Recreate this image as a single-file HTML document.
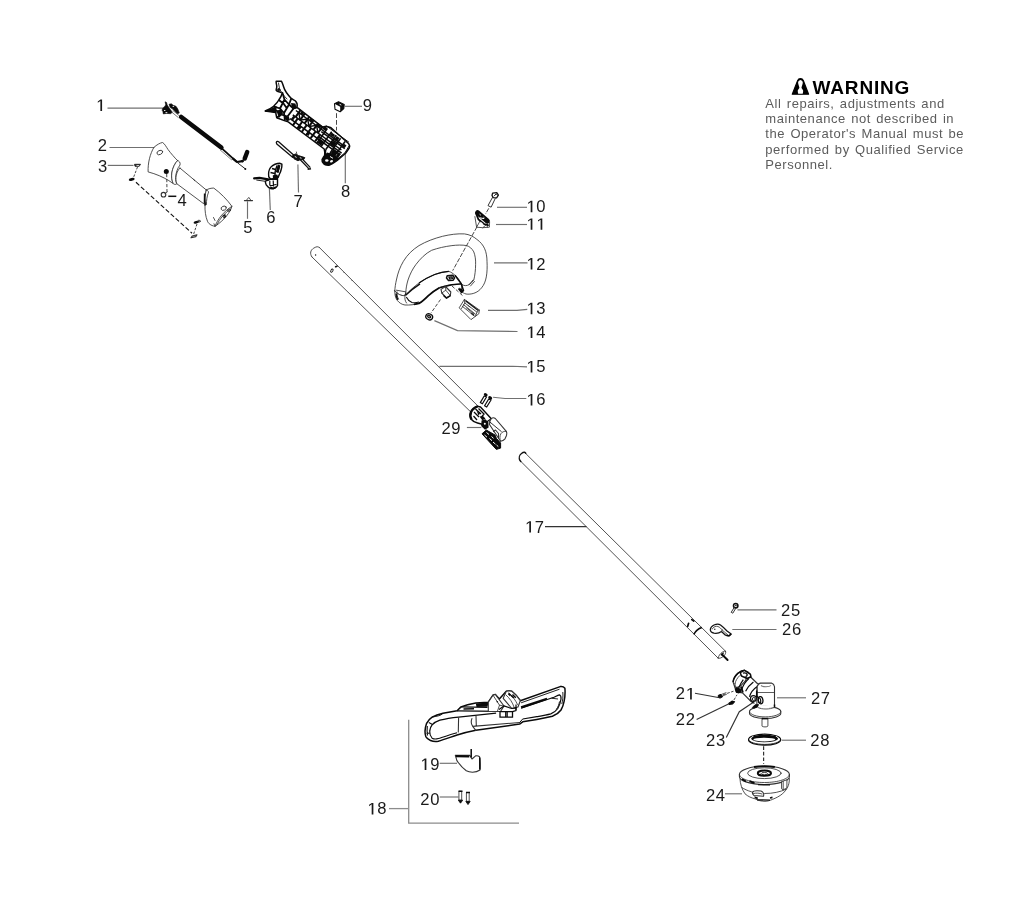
<!DOCTYPE html>
<html><head><meta charset="utf-8">
<style>
html,body{margin:0;padding:0;background:#fff;}
body{width:1024px;height:901px;overflow:hidden;position:relative;font-family:"Liberation Sans",sans-serif;}
svg{position:absolute;left:0;top:0;will-change:transform;}
.n{font-family:"Liberation Sans",sans-serif;font-size:16.6px;fill:#1a1a1a;}
.ld{stroke:#707070;stroke-width:1.15;fill:none;}
.p{stroke:#333;stroke-width:0.85;fill:none;stroke-linejoin:round;stroke-linecap:round;}
.pf{stroke:#333;stroke-width:0.85;fill:#fff;stroke-linejoin:round;stroke-linecap:round;}
.k{stroke:#111;fill:#111;stroke-width:0.8;stroke-linejoin:round;}
.d{stroke:#333;stroke-width:0.9;fill:none;stroke-dasharray:3.2 1.8;}
.w{font-family:"Liberation Sans",sans-serif;font-size:13px;fill:#5c5c5c;letter-spacing:0.55px;word-spacing:1.2px;}
.wt{font-family:"Liberation Sans",sans-serif;font-size:19px;font-weight:bold;fill:#000;letter-spacing:0.82px;}
</style></head><body>
<svg width="1024" height="901" viewBox="0 0 1024 901">
<defs><path id="one" d="M540 0V1237L222 1010V1180L555 1409H750V0Z" fill="#1a1a1a"/></defs>
<!-- WARNING -->
<g id="warning">
<path d="M792.300 94.200L797.600 80.600C798.700 77.900 802.200 77.900 803.300 80.600L808.600 94.200Z" fill="#000" stroke="#000" stroke-width="1.200" stroke-linejoin="round"/>
<path d="M800.450 79.900C802 80.300 802.900 81.500 802.800 82.800C802.600 84.600 801.800 86.200 801.500 87.600C801.500 88.600 802.800 89.300 803.200 90.700C803.200 91.900 802.800 92.900 802.700 93.700H798.200C798.100 92.900 797.700 91.900 797.700 90.700C798.100 89.300 799.400 88.600 799.400 87.600C799.100 86.200 798.300 84.600 798.100 82.800C798 81.500 798.900 80.300 800.450 79.900Z" fill="#fff"/>
<text class="wt" x="812.600" y="94">WARNING</text>
<text class="w" x="765.3" y="107.6">All repairs, adjustments and</text>
<text class="w" x="765.3" y="123">maintenance not described in</text>
<text class="w" x="765.3" y="138.3">the Operator's Manual must be</text>
<text class="w" x="765.3" y="153.6">performed by Qualified Service</text>
<text class="w" x="765.3" y="169.2">Personnel.</text>
</g>
<!-- LABELS -->
<g id="labels">
<use href="#one" transform="translate(96.00 111.00) scale(0.008105 -0.008105)"/>
<text class="n" x="97.80" y="150.80">2</text>
<text class="n" x="97.90" y="172.00">3</text>
<text class="n" x="177.40" y="205.60">4</text>
<text class="n" x="243.20" y="233.20">5</text>
<text class="n" x="266.20" y="223.20">6</text>
<text class="n" x="293.50" y="207.20">7</text>
<text class="n" x="341.00" y="197.40">8</text>
<text class="n" x="362.80" y="111.20">9</text>
<use href="#one" transform="translate(526.30 212.20) scale(0.008105 -0.008105)"/>
<text class="n" x="536.23" y="212.20">0</text>
<use href="#one" transform="translate(526.30 229.80) scale(0.008105 -0.008105)"/>
<use href="#one" transform="translate(536.23 229.80) scale(0.008105 -0.008105)"/>
<use href="#one" transform="translate(526.30 269.50) scale(0.008105 -0.008105)"/>
<text class="n" x="536.23" y="269.50">2</text>
<use href="#one" transform="translate(526.30 314.20) scale(0.008105 -0.008105)"/>
<text class="n" x="536.23" y="314.20">3</text>
<use href="#one" transform="translate(526.30 338.00) scale(0.008105 -0.008105)"/>
<text class="n" x="536.23" y="338.00">4</text>
<use href="#one" transform="translate(526.30 372.40) scale(0.008105 -0.008105)"/>
<text class="n" x="536.23" y="372.40">5</text>
<use href="#one" transform="translate(526.30 405.40) scale(0.008105 -0.008105)"/>
<text class="n" x="536.23" y="405.40">6</text>
<text class="n" x="441.40" y="433.80">2</text>
<text class="n" x="451.33" y="433.80">9</text>
<use href="#one" transform="translate(524.90 532.60) scale(0.008105 -0.008105)"/>
<text class="n" x="534.83" y="532.60">7</text>
<text class="n" x="781.00" y="616.10">2</text>
<text class="n" x="790.93" y="616.10">5</text>
<text class="n" x="782.00" y="634.60">2</text>
<text class="n" x="791.93" y="634.60">6</text>
<text class="n" x="675.80" y="699.40">2</text>
<use href="#one" transform="translate(685.73 699.40) scale(0.008105 -0.008105)"/>
<text class="n" x="675.70" y="725.00">2</text>
<text class="n" x="685.63" y="725.00">2</text>
<text class="n" x="706.10" y="745.60">2</text>
<text class="n" x="716.03" y="745.60">3</text>
<text class="n" x="810.90" y="704.40">2</text>
<text class="n" x="820.83" y="704.40">7</text>
<text class="n" x="810.20" y="745.60">2</text>
<text class="n" x="820.13" y="745.60">8</text>
<text class="n" x="705.90" y="801.00">2</text>
<text class="n" x="715.83" y="801.00">4</text>
<use href="#one" transform="translate(420.30 770.00) scale(0.008105 -0.008105)"/>
<text class="n" x="430.23" y="770.00">9</text>
<text class="n" x="420.30" y="804.60">2</text>
<text class="n" x="430.23" y="804.60">0</text>
<use href="#one" transform="translate(367.30 814.40) scale(0.008105 -0.008105)"/>
<text class="n" x="377.23" y="814.40">8</text>
</g>
<!-- LEADERS -->
<g id="leaders" class="ld">
<path d="M107.5 108.1H163"/>
<path d="M109.5 147.5H153.5"/>
<path d="M107.8 165.4H133.5"/>
<path d="M247.5 201.3V218.8"/>
<path d="M269.4 188.8L270.3 210"/>
<path d="M297.9 164.4L298.5 192.5"/>
<path d="M345.3 153.8V183.2"/>
<path d="M345 106.3H362"/>
<path d="M497 207.3H527"/>
<path d="M496 224.5H527"/>
<path d="M494 262.8H527.5"/>
<path d="M488 310.4H517L527.3 309.4"/>
<path d="M434.4 320.6L457.5 330.6L517.5 331.5"/>
<path d="M439.4 366.3H512.5L527 366.9"/>
<path d="M493.1 397.3L505 398.5H526.3"/>
<path d="M466.9 427.5H481.3"/>
<path d="M737.500 609.900H776.500"/>
<path d="M732.300 629.500H776.500"/>
<path d="M777 697.8H806"/>
<path d="M781.7 740.2H806"/>
<path d="M725 793.8H742"/>
<path d="M439.7 763.3H457"/>
<path d="M439.7 797H458.4"/>
</g>
<g id="leaders2" class="ld" style="stroke:#333">
<path d="M695 693.2L718.200 697.500"/>
<path d="M696.600 719.600L730 703.200"/>
<path d="M726.300 737.500L739.300 711.700L753.400 702.300"/>
<path d="M545 526.600H586.500"/>
</g>
<g id="bracket18" style="stroke:#8c8c8c;stroke-width:1.3;fill:none">
<path d="M408.700 719.800V823.100H519"/>
<path d="M389 808.600H408"/>
</g>
<!-- SHAFTS -->
<g id="shafts" class="p">
<path d="M319.400 247.500L489.500 417.600"/>
<path d="M311.9 256.9L471.3 412.5"/>
<path d="M311.9 256.9C309.500 253.500 310.500 250 313.800 248.100S317.500 246.500 319.400 247.500"/>
<path d="M524.700 452.500L725.600 651.300"/>
<path d="M520 460.600L718.100 658.100"/>
<path d="M520.800 461.400L520 460.600C518.500 458 519.500 455 521.500 453.500S524 452 525 452.500L525.800 453.300" style="stroke:#111;stroke-width:1.400"/>
</g>

<!-- PART 1 cable -->
<g id="p1">
<path d="M165.100 101.800L166.600 102.600L167.200 105L169.600 108.600L172.400 112.300L170.500 113.700L166.500 113.400L163.300 113.900L162.900 111.600L162.200 110.400L162.400 108.900L163.600 107.300L165 106.300L165.700 104.500Z" fill="#0a0a0a" stroke="#0a0a0a" stroke-width="0.600" stroke-linejoin="round"/>
<path d="M169 104.300L171.300 103.800L173.200 105.300L176 106.300L177.800 109L179.300 113L177.300 113.800L172.400 108.800L170.200 107.600Z" fill="#0a0a0a" stroke="#0a0a0a" stroke-width="0.600" stroke-linejoin="round"/>
<path d="M164 110.500h1.400M165.500 112.600h1.800M172.600 106.400h1.500" stroke="#fff" stroke-width="0.900"/>
<path d="M172.800 110.400L179.800 116.200M171.600 112L178.400 117.600" stroke="#555" stroke-width="0.800" fill="none"/>
<path d="M181.200 117L221.300 147.500" stroke="#0a0a0a" stroke-width="4.700" stroke-linecap="round" fill="none"/>
<path d="M221.500 148.200L236.500 161.600" stroke="#0a0a0a" stroke-width="1.800" fill="none"/>
<path d="M220 149.800L232 160.200" stroke="#777" stroke-width="0.900" fill="none"/>
<path d="M233 158.600L237 162L242.500 161.200" stroke="#0a0a0a" stroke-width="2.200" fill="none" stroke-linecap="round" stroke-linejoin="round"/>
<circle cx="242.500" cy="161.100" r="1.400" fill="#0a0a0a"/>
<path d="M244.700 158.600L247.200 152" stroke="#0a0a0a" stroke-width="4.400" stroke-linecap="round" fill="none"/>
<path d="M237.500 162.800L245 168.600" stroke="#222" stroke-width="1" fill="none"/>
<circle cx="245.300" cy="168.900" r="1" fill="#0a0a0a"/>
</g>
<!-- PART 2 handle half -->
<g id="p2">
<path class="pf" d="M153.800 147.500C157 144.500 160 143 162.500 142.500C164.500 143.500 166 146.500 168 149.500C171 153.500 174.500 157.500 177.500 160.600C175 163 172.500 168 171.800 173C171.300 177 171.800 180.500 173.200 183.500L168.800 180.600C163 177 156 174 148.100 171.900C147.800 163 150 154 153.800 147.500Z"/>
<path class="pf" d="M177.500 160.600C179.500 161 180.500 162.500 180 165C177.500 168 175.800 173 175.600 177.500C175.500 180.500 176 182.500 176.900 183.800C175.500 184.800 174 184.500 173.200 183.500C171.800 180.500 171.300 177 171.800 173C172.500 168 175 163 177.500 160.600Z"/>
<path class="pf" d="M180 168.100L206.300 190L203.800 203.800L176.900 183.800C175.800 181.500 175.700 178 176.300 175C177 172 178.300 169.500 180 168.100Z"/>
<path class="p" d="M193.500 179.200l1.200 1.600"/>
<path class="pf" d="M206.300 190C208.500 188.600 211.500 188 213.800 188.100C220.500 193 227 199.500 231.900 206.300C230.500 212 224 220.500 215 226.300C210.500 225.500 208.500 223.500 207.500 221.300C205.500 216.500 204.800 210.500 205 205C204.600 200 204.800 195 206.300 190Z"/>
<path class="p" d="M206.300 190C207.500 190.300 208.300 191 208.600 192C207 196 206.300 200.500 206.500 204.500" />
<path d="M204.700 193.500C204.400 197.500 204.600 201.500 205.300 205.500" stroke="#111" stroke-width="1.700" fill="none"/>
<path class="p" d="M215 226.300C217.500 219.500 223 212 231.900 206.300M216.800 225C219.500 219 224.500 213 230.800 208.800M214 223.800L215 226.300"/>
<ellipse class="p" cx="223.700" cy="208.200" rx="2.700" ry="2" transform="rotate(-25 223.700 208.200)"/>
<ellipse class="p" cx="229" cy="210.200" rx="1.500" ry="1.200"/>
<path d="M222.500 216.500l3 -1.800M223.500 218l2.500 -2" stroke="#111" stroke-width="1.400" fill="none"/>
<path class="p" d="M213.500 217.500l1.500 3"/>
<ellipse class="p" cx="159.800" cy="152.500" rx="3" ry="2" transform="rotate(-25 159.800 152.500)"/>
<circle cx="166.300" cy="171.600" r="2.500" fill="#0a0a0a"/>
<path class="d" d="M166.700 174L167 192"/>
<circle class="p" cx="163.500" cy="194.700" r="2.300" style="stroke-width:1.100"/>
<path d="M165 193.500L167.200 192" class="p"/>
<path d="M168.300 196.300H176.300" stroke="#111" stroke-width="1.500" fill="none"/>
</g>
<!-- PART 3 screws -->
<g id="p3">
<path class="k" d="M134.500 164.300h6l-1.300 2h-4.200z" style="fill:#333"/>
<path d="M136.200 164.900h3.200l-0.600 0.900h-2z" fill="#fff"/>
<path class="d" d="M137.500 167L133.500 177.500" style="stroke-dasharray:2.500 1.500"/>
<ellipse cx="131.700" cy="179.400" rx="3" ry="1.500" transform="rotate(-12 131.700 179.400)" fill="#0a0a0a"/>
<path class="d" d="M136 182.300L192 233.200" style="stroke-dasharray:4.500 2.200;stroke:#111;stroke-width:1.150"/>
<ellipse cx="196.300" cy="222.200" rx="2.800" ry="1.300" transform="rotate(-15 196.300 222.200)" fill="#0a0a0a"/>
<ellipse class="p" cx="199" cy="221.200" rx="1.300" ry="1"/>
<path class="d" d="M197 224L193.500 234.500" style="stroke-dasharray:2.500 1.500"/>
<path class="p" d="M191 237.800l1.200 -1.800 4.800 -1.200 -1.200 1.800z" style="stroke-width:1.100"/>
</g>
<!-- PART 5 -->
<g id="p5">
<path d="M244.400 200.600H252.500" class="p" style="stroke-width:1.100"/>
<path d="M246.300 200.400L248.800 197.400L251 200.400" class="p"/>
</g>
<g id="p8">
<path d="M276.2 81.2L281.4 81.2C282.5 83 283 85 283.5 86.500C284.500 90 286.500 93.500 291.300 98.400C293 99.800 294.500 100.200 295.500 101C297 102.500 297.500 105 297 107.300L322.600 127.100C324 126.300 325.500 126.300 326.800 126.600S329.500 127 331 127.700L348.700 143.800C349.600 145 349.800 146.500 349.200 148L345.600 153.200L337.200 160.500C334.500 162.500 331.500 164.500 328.900 165.200C326.500 165.300 324.500 164.800 323.700 163.700C322.300 162.500 321.800 161 322.100 159.500C322.800 158 324 156.500 324.700 155.300C325 153 324.800 151 324.200 149L288.200 121.900L285 120.900L276.700 117.700L275.700 112.500L265.200 111C268.500 109.800 271.500 108 273.600 106.300C276 104 277.800 102 278.800 100C280.500 97.500 281.800 95 282.400 92.700L278.800 91.700C277 91.200 276 90.500 276.200 89.600C276.800 88 277 86.800 276.700 85.400C276.300 84 276 82.500 276.200 81.200Z" fill="#fff" stroke="#0a0a0a" stroke-width="1.5" stroke-linejoin="round"/>
<path class="p" d="M278.500 83L279.500 88.500C281 92 283.500 95.500 287 99" style="stroke-width:1"/>
<circle cx="278.800" cy="89.500" r="1.600" fill="#111"/>
<path d="M282.400 92.700L284.500 99.500L289 104.500M278.800 100L283.500 103.500L287 108.500M273.600 106.300L280 108.500L284 113M265.200 111L276 110.500L279.500 112M284.500 99.500L280 108.500M289 104.500L284 113L285 120.900M276.700 117.700L281 114.500L287.500 116.500M291.300 98.400L289 104.500L293.500 108.500L297 107.300M287.500 116.500L293.500 108.500" fill="none" stroke="#0a0a0a" stroke-width="1.800" stroke-linejoin="round"/>
<path d="M265.500 111L276.500 106L276.500 113Z" fill="#0a0a0a"/>
<path d="M276.500 111L281 109L283 113.500L279 118Z" fill="#0a0a0a"/>
<path d="M291 103L295.500 103.500L296.500 108L292.500 110Z" fill="#0a0a0a"/>
<path d="M284 117.500L288.500 116L290 120L287 121.500Z" fill="#0a0a0a"/>
<path d="M295.9 110.5 L344.2 146.1M292.8 114.8 L341.4 150.0M290.1 118.6 L338.7 153.8" fill="none" stroke="#0a0a0a" stroke-width="1.500"/>
<path d="M300.5 110.2 L295.7 116.8M297.8 118.4 L292.9 125.3M304.9 113.4 L300.1 120.1M302.3 121.6 L297.3 128.5M309.4 116.6 L304.6 123.3M306.8 124.9 L301.8 131.8M313.8 119.9 L309.0 126.5M311.2 128.1 L306.2 135.0M318.3 123.1 L313.5 129.7M315.7 131.3 L310.7 138.2M322.7 126.3 L317.9 133.0M320.1 134.6 L315.1 141.4" fill="none" stroke="#0a0a0a" stroke-width="2"/>
<path d="M298.8 112.5 L300.1 120.1M307.7 119.0 L309.0 126.5M316.6 125.4 L317.9 133.0M300.1 120.1 L307.7 119.0M309.0 126.5 L316.6 125.4" fill="none" stroke="#0a0a0a" stroke-width="1.400"/>
<path d="M301.6 111.2 L304.0 113.0 L302.4 115.3 L299.9 113.5Z" fill="#0a0a0a"/>
<path d="M310.5 117.7 L313.3 119.7 L311.7 122.0 L308.8 120.0Z" fill="#0a0a0a"/>
<path d="M318.7 123.4 L321.9 125.7 L320.2 128.2 L316.9 125.8Z" fill="#0a0a0a"/>
<path d="M299.2 125.6 L301.6 127.3 L299.9 129.8 L297.4 128.0Z" fill="#0a0a0a"/>
<path d="M307.7 131.7 L310.1 133.5 L308.4 135.9 L305.9 134.2Z" fill="#0a0a0a"/>
<path d="M293.3 115.8 L295.4 117.2 L293.0 120.5 L291.0 119.0Z" fill="#0a0a0a"/>
<path d="M327.3 128.6 L316.7 143.2M331.7 131.8 L321.2 146.4M336.2 135.1 L325.6 149.7M340.6 138.3 L330.1 152.9M345.1 141.5 L334.5 156.1M321.3 131.7 L344.8 148.7M318.1 136.2 L341.6 153.2" fill="none" stroke="#0a0a0a" stroke-width="1.600"/>
<path d="M324.3 125.9 L327.6 128.2 L325.5 131.0 L322.3 128.7Z" fill="#0a0a0a"/>
<path d="M331.8 132.5 L335.1 134.9 L333.3 137.3 L330.1 135.0Z" fill="#0a0a0a"/>
<path d="M332.8 140.6 L336.4 143.3 L333.8 146.9 L330.1 144.3Z" fill="#0a0a0a"/>
<path d="M320.3 139.0 L324.0 141.7 L321.0 145.7 L317.4 143.1Z" fill="#0a0a0a"/>
<path d="M333.7 148.7 L337.7 151.7 L334.5 156.1 L330.5 153.2Z" fill="#0a0a0a"/>
<path d="M344.0 143.8 L346.5 145.6 L344.7 148.0 L342.3 146.3Z" fill="#0a0a0a"/>
<path d="M325.6 149.7 L325.0 157.3 L325.6 163.3M330.1 152.9 L330.3 158.6 L334.6 161.1M334.5 156.1 L331.9 162.3" fill="none" stroke="#0a0a0a" stroke-width="1.600"/>
<path d="M324.3 157.4 L328.2 158.9 L327.4 163.3 L323.4 162.9Z" fill="#0a0a0a"/>
<path d="M325.8 125.5 L348.9 142.2M348.9 146.1 L345.1 152.6 L336.9 159.7" fill="none" stroke="#0a0a0a" stroke-width="1"/>
<path d="M324.700 155.300C324 156.500 322.800 158 322.100 159.500C321.800 161 322.300 162.500 323.700 163.700C324.500 164.800 326.500 165.300 328.900 165.200C331.500 164.500 334.500 162.500 337.200 160.500L339.500 158.500L333 154L327 152.500Z" fill="#0a0a0a"/>
<ellipse cx="326.800" cy="160.500" rx="1.700" ry="1.300" fill="#fff"/>
<ellipse cx="331.500" cy="161.300" rx="1.600" ry="1.100" fill="#fff" transform="rotate(-30 331.500 161.300)"/>
<path d="M330 156.500l3 1.800" stroke="#fff" stroke-width="1"/>
<path d="M336.7 136.1 L339.5 138.1 L336.9 141.8 L334.0 139.7Z" fill="#0a0a0a"/>
<path d="M338.6 152.2 L341.0 154.0 L338.1 158.1 L335.6 156.3Z" fill="#0a0a0a"/>
</g>

<!-- PART 9 -->
<g id="p9">
<path d="M334.500 103.800L338.500 101.800L344.200 104.500L343.800 108.500L340.200 111.800L335 109.200Z" fill="#fff" stroke="#0a0a0a" stroke-width="1.100" stroke-linejoin="round"/>
<path d="M334.500 103.800L338.500 101.800L344.200 104.500L343.800 108.500L340.200 111.800L340.200 106.800Z" fill="#0a0a0a"/>
<path d="M339.500 104.200l1.800 0.900" stroke="#fff" stroke-width="0.9"/>
<path class="d" d="M336.500 113.200V130.500" style="stroke-dasharray:4.800 2"/>
</g>
<!-- PART 7 -->
<g id="p7">
<path d="M276.300 142.600C276.600 141.400 277.700 141.100 278.600 141.800L294.200 155.400L292.600 157.200L276.800 143.900Z" fill="#fff" stroke="#111" stroke-width="1.300" stroke-linejoin="round"/>
<path d="M292.600 155.400L295.500 153.900L298.500 155.600L304.800 157.600L303.800 159.400L300.500 159.500L298 160.800L294 158.800Z" fill="#111" stroke="#0a0a0a" stroke-width="0.900"/>
<path d="M294.800 156.400l1.800 1M299.800 157.600l2.200 1" stroke="#fff" stroke-width="0.900"/>
<path d="M296.400 152L296.900 154.500" class="p"/>
<path d="M299.800 159.300L309 168.900M301.600 158.300L310.400 167.600" fill="none" stroke="#111" stroke-width="1.250"/>
<path d="M307.600 169.300L311 168.700" stroke="#111" stroke-width="1.500"/>
</g>
<!-- PART 6 -->
<g id="p6">
<path d="M280 163.300C278 163.300 276.500 163.700 275 164.250C273.200 165 271.800 166 270.600 167.400C269.600 168.800 269 170.200 268.750 171.750C268.500 173.500 268.500 175.200 268.750 176.750L270.600 179.250L277.500 178C278.500 176.800 279 175.500 279.400 174.250C280.300 172.600 280.900 171 281.250 169.250C281.800 167.500 282 165.800 281.900 164.250Z" fill="#fff" stroke="#0a0a0a" stroke-width="1.400" stroke-linejoin="round"/>
<path d="M277 165.500C275.500 169 274.800 172 275 175.500M272 168.500L275.500 169.500M270.500 172.500L274.800 173.500M279.300 166L278 172.500" fill="none" stroke="#0a0a0a" stroke-width="1.400"/>
<path d="M277.800 164.500L280.500 165.500L278.200 173L275.800 172Z" fill="#0a0a0a"/>
<path d="M272.800 175.200L277.200 174.500L278.600 177.500L277 180.500L273 180Z" fill="#0a0a0a"/>
<path d="M265.300 181.100C265.400 182.500 265.700 183.800 266.250 184.900C267.300 186.500 268.900 187.800 270.600 188.600C272.200 188.900 273.700 188.600 275 188C276.200 187.400 277 186.500 277.500 185.500V179.250L270.600 179.250Z" fill="#fff" stroke="#0a0a0a" stroke-width="1.400" stroke-linejoin="round"/>
<path d="M269.800 181V185.500M273.200 180.500L273.500 186.500M269.800 185.500L276.500 184.500" fill="none" stroke="#0a0a0a" stroke-width="1.200"/>
<path d="M270.300 186.200l2.800 1.300 2.600 -1.200 0.200 1.800 -2.800 1.400 -3 -1.500z" fill="#0a0a0a"/>
<path d="M254.200 178.300L259.500 177.800L268.200 179.400" stroke="#0a0a0a" stroke-width="2.300" fill="none" stroke-linecap="round"/>
<path d="M256.300 180L264.500 181.200L265.500 182" stroke="#0a0a0a" stroke-width="0.900" fill="none"/>
</g>

<!-- PART 12 loop handle -->
<g id="p12">
<path class="pf" d="M394.800 290.900C395 287 395.600 283.500 396.400 280C397.800 273 400 267 403.400 261.300C407.500 254.500 412.500 249.800 419 245.600C426 241.500 434 238.500 442.500 236.300C450 234.500 457.500 233.500 464.400 233.900C469.500 234.500 473.500 236.500 476.900 239.400C480.500 242 483 245 484.700 248.800C486.300 252.500 487 257 487 261.300C487.300 266.500 487.200 272 486.300 276.900C485.500 281.200 484 285 481.600 287.800C479.500 290.500 477 292.300 473.800 293.300C471.300 294.100 468.500 294.400 466 294C464 293.400 462.300 292.400 461.300 290.900L462 284.700C464.500 286 467 285.800 469 284.700C471 283.500 472.500 282 473.800 280C475 275 475.600 269.800 475.600 264.400C475.800 260 475.200 255.500 473.800 251.900C472 248.500 469.500 246.500 466.700 245.600C462 244.800 457 245 451.900 245.600C445 246.500 438 248 431.600 250.300C425.500 253.500 420.500 258.500 416 264.400C412.500 269 409.800 274.500 408 280C406.800 284 406 288 405.800 292.500L405 295.600C401 296 397.500 294 394.800 290.900Z"/>
<path class="pf" d="M394.800 290.900C394.600 294.500 395.500 298 397.200 300.300C399.300 303 402 304.600 405 305C409.800 305.200 414.500 304.700 419 303.400C422.500 301.500 425.500 298.500 428.400 295.600C431.800 292.600 435.500 290 439.400 287.800C443.500 286 447.800 285 451.900 284.700L461.300 283.900L462 284.700C459.500 280 457.500 277.500 455 275.300C453 273.500 451 272 448.800 271.400C444 271.800 439.500 272.800 434.700 274.500C429 276.800 424 279.500 419 283C414 286.500 409.500 291 405 295.600L405.800 292.500L405 295.600C401 296 397.500 294 394.800 290.900Z"/>
<path class="p" d="M397 291.800C396.800 294.500 397.300 297 398.500 299M405 295.600C404.500 298.500 405 301 406.500 303M396.400 290.200L405.500 291.800" />
<path d="M396.200 293.500C396.200 296 396.800 298 397.800 299.800" stroke="#111" stroke-width="1.700" fill="none"/>
<path d="M406.300 297C407.500 299.500 409.500 301.500 412 302.500C414 303 416.500 302.800 419 302" stroke="#111" stroke-width="1.100" fill="none"/>
<path d="M405.600 295.300C410 291 415 287 420 283.800" stroke="#111" stroke-width="1.500" fill="none"/>
<path class="pf" d="M447.200 275.700L452.800 275.200L454.500 278L453.200 280.200L448.500 280.500L446.500 278Z" style="stroke-width:1.500;stroke:#111"/>
<path d="M449 277.200l3 -0.200 0.500 1.500 -2.800 0.500z" fill="none" stroke="#111" stroke-width="1.200"/>
<path d="M455 275.300L461.300 283.900L463.500 290.500L461.500 292.500L458.500 288.500" stroke="#0a0a0a" stroke-width="1.500" fill="none" stroke-linejoin="round"/>
<path d="M459 287.500L464 290.500L461.500 293.500Z" fill="#0a0a0a"/>
<path d="M439.400 287.800L451.900 284.700L461.300 283.900" stroke="#0a0a0a" stroke-width="1.400" fill="none"/>
<path d="M414 304.300C416 304 417.800 303.800 419 303.400C422.500 301.500 425.500 298.500 428.400 295.600C431.800 292.600 435.500 290 439.400 287.800" stroke="#0a0a0a" stroke-width="1.800" fill="none"/>
<path d="M419 283C424 279.500 429 276.800 434.700 274.500C439.500 272.800 444 271.800 448.800 271.400" stroke="#0a0a0a" stroke-width="1.300" fill="none"/>
<path class="pf" d="M441 289.400L445.500 286.500L450.800 292L450.300 295.600L446.500 298L441.800 293Z" style="stroke-width:1.100"/>
<path class="p" d="M445.500 286.500L445.800 290.200L450.300 295.600M445.800 290.200L441.800 293" />
<path d="M443.500 295.500l3 2.500 4 -2.300" stroke="#111" stroke-width="1.500" fill="none"/>
<path class="p" d="M469 284.700L473 280M470.500 286L474.500 281.500"/>
<path class="d" d="M452 286L463 296M440.500 299.500L431 313" style="stroke-dasharray:3.500 1.800"/>
<path class="d" d="M488.800 208.300L485.500 214M477 226.800L452.700 270.600" style="stroke-dasharray:4.500 1.500"/>
</g>
<!-- PART 10 screw -->
<g id="p10">
<path class="pf" d="M492.600 193.200L496.800 192.600L498.400 195.200L496.600 197.800L493.200 197.600L492 195.400Z" style="stroke-width:1.300;stroke:#111"/>
<path d="M494.200 195.800L496.200 194L497.600 195.400" fill="none" stroke="#111" stroke-width="1"/>
<path class="p" d="M492.400 197.600L488 205.600L491.100 207.200L495.200 198.600" style="stroke:#111"/>
</g>
<!-- PART 11 -->
<g id="p11">
<path class="pf" d="M474.900 216.600L476.600 227.200L482.800 227.700L489.400 227.200L489.600 222"/>
<path class="p" d="M476.600 227.200L480 221M482.800 227.700L486.500 224.500M487.300 224V227.300"/>
<path d="M477.600 212.600L487.300 221" stroke="#0a0a0a" stroke-width="5" stroke-linecap="round" fill="none"/>
<path d="M476 213.500L478.500 219.500L484 224L488 225.200" stroke="#0a0a0a" stroke-width="1.800" stroke-linecap="round" fill="none"/>
<path d="M479.600 214.200l1.200 1M479.600 217.800l4.400 0.800M483.500 217.200l1 0.800" stroke="#fff" stroke-width="1"/>
<path d="M480.500 221.500l3 2.800 -2.500 0.700z" fill="#fff"/>
</g>
<!-- PART 13 -->
<g id="p13">
<path class="pf" d="M459.400 307.500L464.400 299.400L479.400 310L478.800 313.800L471.300 319.400Z"/>
<path class="p" d="M464.400 299.400L464.800 303L477 312.200L479.400 310M464.800 303L461.500 308.500M477 312.200L475.500 316.200M468 305.500L470 307M466.500 308L473.500 313.500"/>
<path d="M471 313l3 2.300" stroke="#111" stroke-width="1.500"/>
<path class="p" d="M463.300 304.500L475.500 314.200M462.300 306.300L474.500 316" />
<path d="M465.500 300.800L478.300 310.400" stroke="#111" stroke-width="1.300" fill="none"/>
</g>
<!-- PART 14 nut -->
<g id="p14">
<ellipse cx="429.200" cy="316.800" rx="3.500" ry="2.900" transform="rotate(30 429.200 316.800)" fill="#fff" stroke="#0a0a0a" stroke-width="1.300"/>
<ellipse cx="429.200" cy="316.600" rx="2.300" ry="1.700" transform="rotate(30 429.200 316.600)" fill="#111"/>
<path d="M428.300 316.300l1.600 0.700" stroke="#fff" stroke-width="0.700"/>
</g>
<!-- PART 16 screws -->
<g id="p16">
<path class="pf" d="M484.200 396L480.300 402.600L482.400 403.800L486.500 397Z" style="stroke:#0a0a0a;stroke-width:1.200"/>
<path class="pf" d="M488.700 399L484.600 405.800L486.700 407L491 400Z" style="stroke:#0a0a0a;stroke-width:1.200"/>
<ellipse cx="485.700" cy="394.800" rx="2" ry="1.500" transform="rotate(30 485.700 394.800)" fill="#0a0a0a"/>
<ellipse cx="490.200" cy="397.900" rx="2.100" ry="1.600" transform="rotate(30 490.200 397.900)" fill="#0a0a0a"/>
</g>
<!-- PART 29 coupler -->
<g id="p29">
<path d="M477.500 406.300C474.500 407.500 472 409.500 471 412C470 414.500 470.300 417.500 471.500 419.500C473 421.500 475 422.500 477.500 423L483 424.500L491.300 418.700L480.500 407Z" fill="#fff" stroke="#0a0a0a" stroke-width="1.400" stroke-linejoin="round"/>
<path d="M477.500 406.300C474.500 407.500 472 409.500 471 412C470 414.500 470.300 417.500 471.500 419.500" stroke="#0a0a0a" stroke-width="2.400" fill="none"/>
<path d="M475.500 409L481 414M474 412L479 417M473.500 416L477 420M478.500 408.500L484 414L482 416.500L485 419" stroke="#0a0a0a" stroke-width="1.300" fill="none"/>
<path d="M476.500 410.500l3.500 3 -1.500 2z" fill="#0a0a0a"/>
<path class="pf" d="M491.300 418.700C492.500 417.600 494 417.500 495.300 418.500L506.300 431.300C507 432.500 507 434 506.500 435.500L505 438.800C504 440 502.500 441 500.500 441.300L489.500 424.500C489.300 422.500 490 420.200 491.300 418.700Z" style="stroke-width:1.100"/>
<path class="p" d="M506.300 431.300C504 431 502 432 500.800 433.800C499.800 435.800 499.600 438.500 500.500 441.300"/>
<path d="M481.500 420.500L485.500 419.200L488.400 422.500L488.600 427.500L485 429.800L481.200 426Z" fill="#0a0a0a"/>
<path d="M479.500 416.500l3.500 -0.500 2 2.500 -2.500 2z" fill="#0a0a0a"/>
<path class="p" d="M489.600 421.800L501.300 431.500" style="stroke:#111"/>
<circle cx="484.800" cy="423.800" r="1" fill="#fff"/>
<path d="M482 433.800L486.300 430L495 435L496.500 438.500L500.600 443L500.600 448.100L496.300 449.400Z" fill="#0a0a0a" stroke="#0a0a0a" stroke-width="1" stroke-linejoin="round"/>
<path d="M486.500 432.500l2.500 2M484.500 435l2.500 2.200M489.500 438.500l2.500 2.200M493 442l2.500 2.200M491.500 436.500l2 1.800M496.500 445l1.800 1.600" stroke="#fff" stroke-width="1"/>
<path class="p" d="M493.500 431.500L495.500 430L498.500 433.500L498.500 438" style="stroke-width:1.100"/>
</g>

<!-- shaft details -->
<g id="shaftdet">
<circle cx="315.600" cy="255" r="0.700" fill="#111"/>
<ellipse cx="336.300" cy="266.500" rx="1.600" ry="0.900" transform="rotate(-20 336.300 266.500)" fill="#111"/>
<ellipse cx="331.900" cy="270.600" rx="1" ry="1.800" transform="rotate(30 331.900 270.600)" fill="none" stroke="#111" stroke-width="0.900"/>
<path d="M343.500 272l0.800 0.800M351.500 280l0.800 0.800" stroke="#333" stroke-width="0.800"/>
<path d="M693.800 634.400C695.500 631 698.500 628.500 701.900 627.500" stroke="#0a0a0a" stroke-width="1.600" fill="none"/>
<path d="M687.700 626.300l0.900 -3M691.800 619.600l2 1.500" stroke="#0a0a0a" stroke-width="1.700" fill="none" stroke-linecap="round"/>
<path class="p" d="M725.600 651.300C726.200 652.500 725.500 654.500 723.500 656.200S719.300 658.800 718.100 658.100"/>
<path class="p" d="M718.100 658.100C718.500 656 720 653.800 722 652.400S724.800 651 725.600 651.300" />
<path d="M721.800 654.300L727.600 660" stroke="#0a0a0a" stroke-width="1.900" stroke-linecap="round"/>
<path d="M723.800 652.600l-2.800 2.800" stroke="#0a0a0a" stroke-width="1.100"/>
</g>
<!-- PART 25 -->
<g id="p25">
<circle class="pf" cx="735.700" cy="605.700" r="2.200" style="stroke-width:1.600;stroke:#111"/>
<circle cx="735.900" cy="605.400" r="0.800" fill="#111"/>
<path class="p" d="M734.200 607.500L731.200 612.300L732.800 613.200L735.800 608.200" style="stroke-width:1"/>
</g>
<!-- PART 26 clip -->
<g id="p26">
<path class="pf" d="M710.300 629.500C710.500 627.500 712 626 714 625C716.500 624 719 624 720.500 625C722.500 626.500 725 628.800 727 631L731.200 634L729 635.800L725.500 635.200L721.500 631.500C719.500 633 716.500 633.600 714 633.200C711.800 632.700 710.300 631.300 710.300 629.500Z" style="stroke-width:1.250;stroke:#111"/>
<path class="p" d="M712.300 629C712.800 627.500 714.500 626.500 716.500 626.300C718.500 626.300 720 627.500 721.500 629.200L724.500 632.200L727.500 634.500M721.500 631.500L722.200 629.800"/>
<circle cx="714.800" cy="629.200" r="0.700" fill="#111"/>
<path d="M726.500 635.400L729.200 635.800L731.200 634" stroke="#0a0a0a" stroke-width="1.500" fill="none"/>
</g>
<!-- PART 27 gearbox -->
<g id="p27">
<path class="d" d="M723 694.800L733.500 691.200M733.900 700L737 694.800" style="stroke-dasharray:2.800 1.500"/>
<path d="M718.300 695.300l2.800 -1 1.600 2.400 -2.600 1.400 -1.800 -0.600z" fill="#0a0a0a" stroke="#0a0a0a" stroke-width="1"/>
<path class="p" d="M722 694.200L726 692.700M722.600 696L726.500 694.300" style="stroke-width:0.800"/>
<path d="M729 703.300l3 -2.200 2.600 0.600 -2 2.300 -3.400 0.400z" fill="#0a0a0a" stroke="#0a0a0a" stroke-width="1.100" stroke-linejoin="round"/>
<!-- vertical cylinder -->
<path class="pf" d="M756.900 707V686.700C757.200 684.800 758.500 683.600 760.400 683.100H771.400C773.200 683.800 774.300 685 774.500 686.700V707Z" style="stroke-width:1.100"/>
<path d="M761 685.500C762 686.400 764 686.800 766 686.800S770.200 686.400 771 685.500" fill="none" stroke="#777" stroke-width="1.100"/>
<path d="M757.300 692.500H774.200" class="p" style="stroke-width:0.800"/>
<!-- flange -->
<path class="pf" d="M749.500 711.600C749.500 708.700 756.500 706.300 765.200 706.300S780.800 708.700 780.800 711.600V713.200C780.800 716.100 773.800 718.500 765.200 718.500S749.500 716.100 749.500 713.200Z" style="stroke-width:1.100"/>
<path class="p" d="M749.500 711.600C749.500 714.500 756.500 716.900 765.200 716.900S780.800 714.500 780.800 711.600"/>
<path d="M757.500 706.600C759.500 706.300 762.500 706.100 765.200 706.100S771.500 706.300 774 706.700" stroke="#fff" stroke-width="1.600" fill="none"/>
<path class="p" d="M758.500 707.800C760 708.600 763 709 766 709S772 708.500 774.300 707.500" style="stroke-width:0.800"/>
<path d="M774.500 704.500V707" stroke="#0a0a0a" stroke-width="1.500"/>
<!-- stub shaft -->
<path class="pf" d="M762 718.300V726C762 726.500 763.300 726.900 765 726.900S767.900 726.500 767.900 726V718.300"/>
<path d="M762 718.600H767.900" stroke="#0a0a0a" stroke-width="1.600"/>
<!-- angled tube -->
<path class="pf" d="M751.100 677.500L758.400 684.500C757.500 685.300 757 686.200 756.900 687V698L751.100 701.500L742.500 692.900L736.500 692L733.100 682C733.300 679.500 735 676 737.800 673.400C740 671.500 742.500 670.300 744.400 670.250C747 671 749.300 672.500 750.300 674.200Z" style="stroke-width:1.200"/>
<!-- clamp ring ellipse -->
<path d="M733.100 682C733.300 679.500 735 676 737.800 673.400C740 671.500 742.500 670.300 744.400 670.250" fill="none" stroke="#0a0a0a" stroke-width="1.500"/>
<path class="p" d="M735 683.500C735.500 681 737.200 678 739.700 675.600C741.200 674.200 742.800 673.200 744 672.800M735 683.500C735 685 735.500 686.300 736.300 687.200"/>
<path d="M734.700 686.700C736 688 738.500 687.500 741.500 685C744 682.800 746.500 679.500 747.500 676.800" class="p" style="stroke-width:1.100"/>
<!-- clamp block -->
<path d="M740.200 672.600L744.500 670.300L750.500 674.300L750.800 677.200L747.200 678.700L741.500 676Z" fill="#fff" stroke="#0a0a0a" stroke-width="1.400" stroke-linejoin="round"/>
<path d="M743 673.200C744.500 672.600 746.300 673 747 674.200C747.500 675.300 746.800 676.300 745.500 676.600M744.200 677.200L747.500 678.300L750.300 676.800" fill="none" stroke="#0a0a0a" stroke-width="1.300"/>
<!-- ribs across tube -->
<path d="M743.300 679.600C741.500 682 739.800 685 738.600 688.200M748.700 678.800C745.500 681.500 743 685.500 741.700 689.800M753.400 682C750 684.500 747 688.300 745.600 691.300M756.900 686.700C753.500 689 750.500 693 749.500 696.800" fill="none" stroke="#0a0a0a" stroke-width="1.200"/>
<path d="M734.700 689L737 687.200L740.800 688.800L741.500 692L738.800 693.500L736 692.800Z" fill="#0a0a0a"/>
<path d="M741 686.500L742.800 692.500" stroke="#0a0a0a" stroke-width="2"/>
<!-- side boss -->
<circle cx="753.400" cy="698.600" r="2.900" fill="#fff" stroke="#0a0a0a" stroke-width="1.200"/>
<circle cx="753.800" cy="699" r="1.500" fill="#fff" stroke="#0a0a0a" stroke-width="0.900"/>
<path d="M756.700 690.500V697.500" stroke="#0a0a0a" stroke-width="1.500"/>
<ellipse cx="760.600" cy="700.200" rx="2.300" ry="3.600" transform="rotate(-8 760.600 700.200)" fill="#fff" stroke="#0a0a0a" stroke-width="1.300"/>
<ellipse cx="759.500" cy="700.500" rx="1.200" ry="2.500" transform="rotate(-8 759.500 700.500)" fill="none" stroke="#0a0a0a" stroke-width="1.200"/>
<path d="M757.200 696.200L758.500 698M751.500 702L754.500 703.200" stroke="#0a0a0a" stroke-width="1.200"/>
<path d="M752.300 707.500L755 704.800L758.500 704.500L757.800 706.500L754 708.300Z" fill="#0a0a0a" stroke="#0a0a0a" stroke-width="0.800"/>
</g>
<!-- PART 28 washer -->
<g id="p28">
<path d="M748.600 739.300C748.600 736.500 755.800 734.200 764.600 734.200S780.600 736.500 780.600 739.300V740.100C780.600 742.900 773.400 745.200 764.600 745.200S748.600 742.900 748.600 740.100Z" fill="#fff" stroke="#0a0a0a" stroke-width="1.200"/>
<path d="M748.600 739.300C748.600 742.100 755.800 744.400 764.600 744.400S780.600 742.100 780.600 739.300" fill="none" stroke="#0a0a0a" stroke-width="0.800"/>
<ellipse cx="764.600" cy="738.500" rx="13.400" ry="3.800" fill="#0a0a0a"/>
<ellipse cx="764.300" cy="739.600" rx="11" ry="1.800" fill="#fff"/>
<path d="M751.200 737.600l2 -1.400M778 737.600l-2 -1.400" stroke="#fff" stroke-width="0.800"/>
<path class="d" d="M763.600 746.200V763.800" style="stroke-dasharray:3.700 1.900;stroke-width:1.200"/>
</g>
<!-- PART 24 head -->
<g id="p24">
<path class="pf" d="M740 779C740.200 784 742 789.500 745 793.800C748 796.500 751.500 798 755 798.800C758 800.500 761.500 801.300 765 801.300C767.500 801.300 770 800.500 772.500 799.400C776 798 779.500 796.200 782.500 793.800C784.500 792 786.300 789.800 787.500 787.500C788.800 784.800 789.400 781.800 789.400 778.800Z"/>
<path class="p" d="M741.800 787.500C747 791 755 793.500 764.400 793.500C773 793.500 780 792 786.200 789.200"/>
<path class="pf" d="M739.400 774.400C739.400 769.900 750.600 766.300 764.400 766.300S789.400 769.900 789.400 774.400V776.400C789.400 780.900 778.200 784.500 764.400 784.500S739.400 780.900 739.400 776.400Z" style="stroke-width:1.100"/>
<path class="p" d="M739.400 774.400C739.400 778.900 750.600 782.500 764.400 782.500S789.400 778.900 789.400 774.400"/>
<path d="M754 767C757 766.500 760.500 766.300 764.400 766.300S771.800 766.500 774.800 767" stroke="#0a0a0a" stroke-width="1.900" fill="none"/>
<ellipse class="p" cx="764.400" cy="773.200" rx="16.800" ry="5.400"/>
<ellipse cx="764.400" cy="773.200" rx="6.600" ry="2.600" fill="#fff" stroke="#0a0a0a" stroke-width="2"/>
<ellipse cx="764.400" cy="773.600" rx="3.200" ry="1.100" fill="#fff" stroke="#0a0a0a" stroke-width="0.800"/>
<path d="M749.500 781.200L754.500 783.200M742 779L746 781.500" stroke="#0a0a0a" stroke-width="1.800" fill="none"/>
<path d="M758 784.800L770 785" stroke="#0a0a0a" stroke-width="1.100" fill="none"/>
<path class="pf" d="M781.900 781.500L786.900 779.800V788L783.200 789.800L781.900 789Z"/>
<path class="p" d="M783.200 781.200V789.800"/>
<path class="pf" d="M752.500 792.500C753 791.300 755 790.700 757.500 790.800L761 791C762.500 791.500 763.500 793 763.800 794.500L763.500 796.300L754 795.500C752.800 794.800 752.300 793.600 752.500 792.500Z" style="stroke-width:1.100"/>
<path class="p" d="M753.500 793.500C756 792.800 759.500 793 762 794"/>
<path d="M754.300 796.200L758 797.500L757.500 799.200L754.800 798.200Z" fill="#0a0a0a"/>
<path d="M757 799.800L770 800.200" stroke="#0a0a0a" stroke-width="1.300"/>
<path d="M770 798l2.500 -0.600" stroke="#0a0a0a" stroke-width="1.600"/>
</g>

<!-- PART 18 shield -->
<g id="p18">
<path d="M425 731.100C425.200 728 425.800 725.500 426.600 723.300C428 720.500 430 718.500 432.100 717.100C435.500 715.200 439.500 714 443 713.200L457.100 710.800L461 706.900C465.500 705.200 470.500 704 475.800 703L488.300 702.200L493 695.200L495.300 694.400L499.300 699.100L506.300 691.300C508 690.800 510 690.800 511.800 691.300C515 693.800 518 697 520.300 700.700L560.200 686.600C562 686.300 563.800 686.800 564.900 688.200C565.300 692.500 565 697 564.100 701.400C563.500 704.500 562.500 707.500 561 710C558.800 713 555.800 715 552.400 716.300C547.500 717.600 542 718.600 536.800 719.400L522.700 721.800L519.600 724.100L475.800 730.300C469.500 731.500 463 733.200 457.100 735C451 737 444.500 739.500 438.300 741.300C435.500 741.800 432.800 741.500 430.500 740.500C428.300 739.600 426.800 738.300 425.800 736.600C425.200 735 425 733 425 731.100Z" fill="#fff" stroke="#0a0a0a" stroke-width="1.500" stroke-linejoin="round"/>
<!-- left loop inner -->
<path d="M429.700 731.100C430 728.500 430.800 726.500 432.100 724.900C434 722.800 436.800 721.200 439.900 720.200C446 718.600 452.500 717.700 458.600 717.100L496.100 713.200" fill="none" stroke="#0a0a0a" stroke-width="1.300"/>
<path d="M429.700 731.100C429.600 734 430.500 736.500 432.100 738.200C434 739.200 436 739.200 438.300 738.500C444.500 736.500 451 734.300 457.100 732.700" fill="none" stroke="#0a0a0a" stroke-width="1.100"/>
<path d="M427.300 726C427 729 427 732.500 427.500 735.500M428.800 722.500L432.500 724.500M426.500 733.500L430 733" fill="none" stroke="#0a0a0a" stroke-width="1.100"/>
<path d="M432.100 717.100C436 716.300 441 716 443 713.200" fill="none" stroke="#0a0a0a" stroke-width="0.900"/>
<!-- opening -->
<path class="p" d="M458.600 717.800L458.300 731.900M471.900 718.600C471 721 471 724 472.700 726.400L519.600 722.500M476 716L476.300 725.800M472.700 726.400L475.800 730.300" style="stroke-width:1.100"/>
<!-- top ridge -->
<path d="M457.100 710.800L500 711.400" fill="none" stroke="#0a0a0a" stroke-width="1.300"/>
<path d="M461 706.900L487.500 707.300" fill="none" stroke="#0a0a0a" stroke-width="1.200"/>
<path d="M475.800 703.600L488.500 702.600L487.500 706.800L476.500 707Z" fill="#0a0a0a"/>
<path d="M463.500 709L474 708.700" stroke="#0a0a0a" stroke-width="1.400"/>
<!-- flaps -->
<path class="pf" d="M493 695.200L495.300 694.400L504 706L500.500 711.500L488.300 711.300V702.200Z" style="stroke-width:1.100"/>
<path class="p" d="M493 695.200L499.500 705.200L504 706M499.500 705.200L497.500 711"/>
<circle cx="497.300" cy="701.800" r="0.800" fill="#111"/>
<path class="pf" d="M506.300 691.300C508 690.800 510 690.800 511.800 691.300C515 693.800 518 697 520.300 700.700L518 707L511.800 708.500L503.200 698.300Z" style="stroke-width:1.100"/>
<path class="p" d="M508.500 693C512.500 696 515.500 700 517.500 704.500M506 695C510 698.500 512.500 702.500 514 707"/>
<path d="M510.800 695.300l3 2.800M512.500 694.500l3.300 3.200" stroke="#0a0a0a" stroke-width="1.400"/>
<path d="M508.500 693.500l2 2" stroke="#0a0a0a" stroke-width="1.800"/>
<!-- bracket -->
<path d="M500 711.600H512.500V717.100H500Z" fill="#fff" stroke="#0a0a0a" stroke-width="1.300"/>
<path d="M505.700 711.600V717.100M507.200 711.600V717.100" stroke="#0a0a0a" stroke-width="1.200"/>
<path d="M499 709.500L504 706L511.800 708.500L516 707.800L516 710.500L512.500 711.600" fill="none" stroke="#0a0a0a" stroke-width="1.200"/>
<path d="M516 704.500V710" stroke="#0a0a0a" stroke-width="1.200"/>
<!-- right arm inner -->
<path d="M521.100 702.800L559.500 689.200" fill="none" stroke="#0a0a0a" stroke-width="0.900"/>
<path d="M521.100 708.200L553.900 697.300C556 696.300 558 695.200 559.400 694.800C560.800 695.600 561.200 697.300 561 699C560.500 702.500 559.500 705.800 557.800 708.500C556 711 553.500 712.800 550.800 713.900C546 715.200 541 716 536.800 716.700L522.700 719" fill="none" stroke="#0a0a0a" stroke-width="1.200"/>
<path d="M521.100 707.400L547 698.800" stroke="#0a0a0a" stroke-width="2.200"/>
<path d="M551.500 698.200L558 699M559.500 701.500C559 704.500 558 707.200 556.300 709.300" fill="none" stroke="#0a0a0a" stroke-width="0.900"/>
<path d="M562.800 692C563.200 696 562.800 700.500 561.800 704" fill="none" stroke="#0a0a0a" stroke-width="0.900"/>
<path d="M519.600 722.500L522.700 719" stroke="#0a0a0a" stroke-width="1"/>
</g>
<!-- PART 19 -->
<g id="p19">
<path class="pf" d="M455.300 755.200L469.800 755.400L472 759L475.600 755.900C477 755.600 478.500 755.900 479.500 756.700C480.200 761 480.300 765.500 480 770C477.800 771.500 475.200 772.200 472.500 772.300C470.200 772.200 468 771.700 466.300 770.800C462.500 768 459.500 764.500 456.900 760.600Z" style="stroke-width:1.100"/>
<path d="M455.800 756.200L469.300 756.500" stroke="#0a0a0a" stroke-width="2.200"/>
<path d="M471.200 748.900V757.500" stroke="#0a0a0a" stroke-width="1.500"/>
<path d="M479.800 757.500V769.500" stroke="#0a0a0a" stroke-width="1.500"/>
</g>
<!-- PART 20 -->
<g id="p20">
<path class="pf" d="M459.300 791.300H461.700V800.200H459.300ZM466.800 792.500H469.200V801.400H466.800Z"/>
<path d="M458.500 791.300H462.500M466 792.500H470" stroke="#0a0a0a" stroke-width="1.400"/>
<path d="M458.300 800.200L460.500 803.200L462.700 800.200ZM465.800 801.400L468 804.600L470.200 801.400Z" fill="#0a0a0a" stroke="#0a0a0a" stroke-width="0.800"/>
</g>
<!--PARTS-->
</svg>
</body></html>
